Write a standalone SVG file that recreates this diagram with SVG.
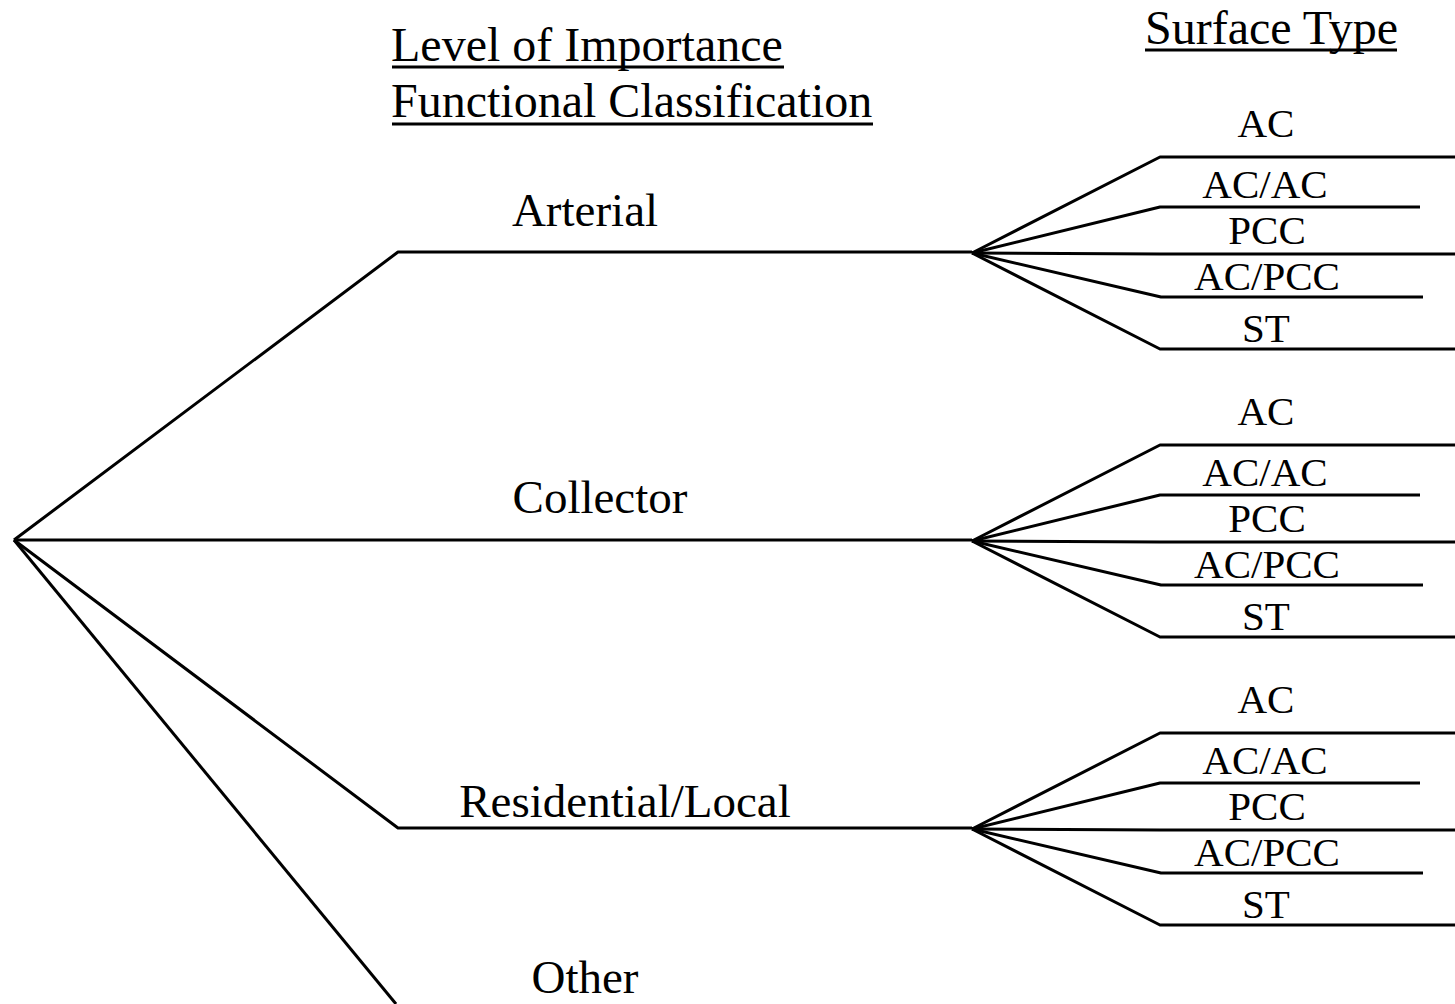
<svg xmlns="http://www.w3.org/2000/svg" width="1455" height="1004" viewBox="0 0 1455 1004">
<style>
.l{stroke:#000;stroke-width:3;fill:none;stroke-linejoin:round}
.big{font-family:"Liberation Serif","Times New Roman",serif;font-size:47px;fill:#000}
.hd{font-family:"Liberation Serif","Times New Roman",serif;font-size:48px;fill:#000}
.sm{font-family:"Liberation Serif","Times New Roman",serif;font-size:41px;fill:#000;text-anchor:middle}
.u{stroke:#000;stroke-width:3}
</style>
<rect width="1455" height="1004" fill="#fff"/>
<g id="headers">
<text class="hd" x="391" y="61">Level of Importance</text>
<line class="u" x1="392" y1="67" x2="784" y2="67"/>
<text class="hd" x="391" y="117">Functional Classification</text>
<line class="u" x1="392" y1="124" x2="873" y2="124"/>
<text class="hd" x="1145" y="44">Surface Type</text>
<line class="u" x1="1145" y1="50" x2="1397" y2="50"/>
</g>
<g id="connectors">
<polyline class="l" points="14,540 398,252 972,252"/>
<polyline class="l" points="14,540 972,540"/>
<polyline class="l" points="14,540 398,828 972,828"/>
<polyline class="l" points="14,540 396,1004"/>
<g id="fork-arterial">
<polyline class="l" points="972,253 1160,157 1455,157"/>
<polyline class="l" points="972,253 1160,207 1420,207"/>
<polyline class="l" points="972,253 1160,254 1455,254"/>
<polyline class="l" points="972,253 1161,297 1423,297"/>
<polyline class="l" points="972,253 1160,349 1455,349"/>
</g>
<g id="fork-collector" transform="translate(0,288)">
<polyline class="l" points="972,253 1160,157 1455,157"/>
<polyline class="l" points="972,253 1160,207 1420,207"/>
<polyline class="l" points="972,253 1160,254 1455,254"/>
<polyline class="l" points="972,253 1161,297 1423,297"/>
<polyline class="l" points="972,253 1160,349 1455,349"/>
</g>
<g id="fork-residential" transform="translate(0,576)">
<polyline class="l" points="972,253 1160,157 1455,157"/>
<polyline class="l" points="972,253 1160,207 1420,207"/>
<polyline class="l" points="972,253 1160,254 1455,254"/>
<polyline class="l" points="972,253 1161,297 1423,297"/>
<polyline class="l" points="972,253 1160,349 1455,349"/>
</g>
</g>
<g id="node-arterial"><text class="big" x="585" y="226" text-anchor="middle">Arterial</text></g>
<g id="node-collector"><text class="big" x="600" y="513" text-anchor="middle">Collector</text></g>
<g id="node-residential"><text class="big" x="625" y="817" text-anchor="middle">Residential/Local</text></g>
<g id="node-other"><text class="big" x="585" y="993" text-anchor="middle">Other</text></g>
<g id="surfaces-arterial">
<text class="sm" x="1266" y="137">AC</text>
<text class="sm" x="1265" y="198">AC/AC</text>
<text class="sm" x="1267" y="244">PCC</text>
<text class="sm" x="1267" y="290">AC/PCC</text>
<text class="sm" x="1266" y="342">ST</text>
</g>
<g id="surfaces-collector" transform="translate(0,288)">
<text class="sm" x="1266" y="137">AC</text>
<text class="sm" x="1265" y="198">AC/AC</text>
<text class="sm" x="1267" y="244">PCC</text>
<text class="sm" x="1267" y="290">AC/PCC</text>
<text class="sm" x="1266" y="342">ST</text>
</g>
<g id="surfaces-residential" transform="translate(0,576)">
<text class="sm" x="1266" y="137">AC</text>
<text class="sm" x="1265" y="198">AC/AC</text>
<text class="sm" x="1267" y="244">PCC</text>
<text class="sm" x="1267" y="290">AC/PCC</text>
<text class="sm" x="1266" y="342">ST</text>
</g>
</svg>
